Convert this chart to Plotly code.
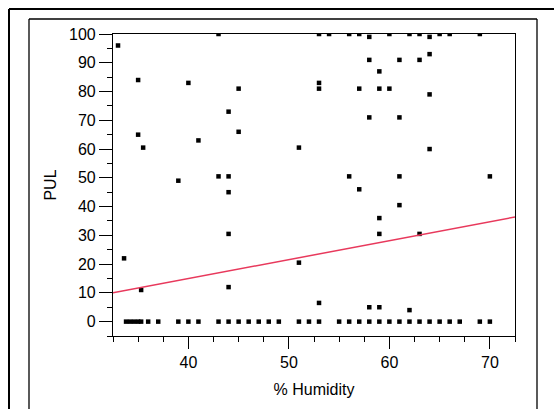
import plotly.graph_objects as go

# ---------------- data ----------------
humidity_top = [43, 53, 54, 56, 57, 60, 62, 63, 65, 66, 69, 58, 64]
pul_top = [100, 100, 100, 100, 100, 100, 100, 100, 100, 100, 100, 99, 99]

humidity_mid = [33, 35, 40, 35, 35.5, 41, 45, 53, 53, 57, 44, 45, 51,
                64, 58, 61, 63, 59, 59, 60, 64, 58, 61, 64,
                33.6, 39, 35.3, 43, 44, 44, 44, 44, 51, 53, 56, 57,
                61, 61, 59, 59, 63, 70, 58, 59, 62]
pul_mid = [96, 84, 83, 65, 60.5, 63, 81, 83, 81, 81, 73, 66, 60.5,
           93, 91, 91, 91, 87, 81, 81, 79, 71, 71, 60,
           22, 49, 11, 50.5, 50.5, 45, 30.5, 12, 20.5, 6.5, 50.5, 46,
           50.5, 40.5, 36, 30.5, 30.5, 50.5, 5, 5, 4]

humidity_zero = [33.8, 34.2, 34.6, 35.0, 35.3, 36, 37, 39, 40, 41, 43, 44, 45, 46,
                 47, 48, 49, 51, 52, 53, 55, 56, 57, 58, 59, 60, 61, 62, 63,
                 64, 65, 66, 67, 69, 70]
pul_zero = [0] * len(humidity_zero)

humidity = humidity_top + humidity_mid + humidity_zero
pul = pul_top + pul_mid + pul_zero

fit_intercept = -11.4
fit_slope = 0.659

x_range = [32.5, 72.5]
y_range = [-5, 100]
x_tickvals = [40, 50, 60, 70]
y_tickvals = [0, 10, 20, 30, 40, 50, 60, 70, 80, 90, 100]

# ---------------- layout geometry ----------------
W, H = 554, 409
ML, MR, MT, MB = 113, 39, 34, 73
PW = W - ML - MR
PH = H - MT - MB


def px_x(p):
    return (p - ML) / PW


def px_y(p):
    return (H - MB - p) / PH


FONT = "Liberation Sans, Arial, sans-serif"

fig = go.Figure()
fig.add_trace(go.Scatter(
    x=humidity, y=pul, mode="markers",
    marker=dict(symbol="square", size=4.5, color="black", line=dict(width=0)),
    showlegend=False, hoverinfo="x+y"))

fit_x = list(x_range)
fit_y = [fit_intercept + fit_slope * v for v in fit_x]
fig.add_trace(go.Scatter(
    x=fit_x, y=fit_y, mode="lines",
    line=dict(color="#e8395c", width=1.5),
    showlegend=False, hoverinfo="skip"))

axis_common = dict(
    showgrid=False, zeroline=False, showline=True, linecolor="black",
    linewidth=1.2, mirror=True, ticks="outside", tickcolor="black",
    tickwidth=1, tickfont=dict(family=FONT, size=16, color="black"),
    automargin=False,
)

fig.update_xaxes(
    **axis_common, range=x_range, tickmode="array", tickvals=x_tickvals,
    ticklen=12,
    minor=dict(tick0=32.5, dtick=2.5, ticklen=5, ticks="outside",
               tickcolor="black", tickwidth=1),
    title=dict(text="% Humidity", font=dict(family=FONT, size=16, color="black"),
               standoff=13),
)
fig.update_yaxes(
    **axis_common, range=y_range, tickmode="array", tickvals=y_tickvals,
    ticklen=13,
    minor=dict(tick0=-5, dtick=5, ticklen=5, ticks="outside",
               tickcolor="black", tickwidth=1),
    title=dict(text="PUL", font=dict(family=FONT, size=16, color="black"),
               standoff=8),
)

shapes = [
    # outer frame
    dict(type="line", xref="paper", yref="paper",
         x0=px_x(9), x1=px_x(9), y0=px_y(9), y1=px_y(430),
         line=dict(color="black", width=2)),
    dict(type="line", xref="paper", yref="paper",
         x0=px_x(9), x1=px_x(580), y0=px_y(9), y1=px_y(9),
         line=dict(color="black", width=2)),
    # inner frame
    dict(type="line", xref="paper", yref="paper",
         x0=px_x(29), x1=px_x(29), y0=px_y(19), y1=px_y(430),
         line=dict(color="black", width=1.3)),
    dict(type="line", xref="paper", yref="paper",
         x0=px_x(29), x1=px_x(537), y0=px_y(19), y1=px_y(19),
         line=dict(color="black", width=1.3)),
    dict(type="line", xref="paper", yref="paper",
         x0=px_x(537), x1=px_x(537), y0=px_y(19), y1=px_y(430),
         line=dict(color="black", width=1.3)),
]

fig.update_layout(
    width=W, height=H,
    margin=dict(l=ML, r=MR, t=MT, b=MB, pad=0),
    paper_bgcolor="white", plot_bgcolor="white",
    font=dict(family=FONT, size=16, color="black"),
    shapes=shapes,
)

fig.write_html(
    "out.html",
    config={"displayModeBar": False},
    post_script="document.body.style.margin='0px';document.body.style.overflow='hidden';",
)
